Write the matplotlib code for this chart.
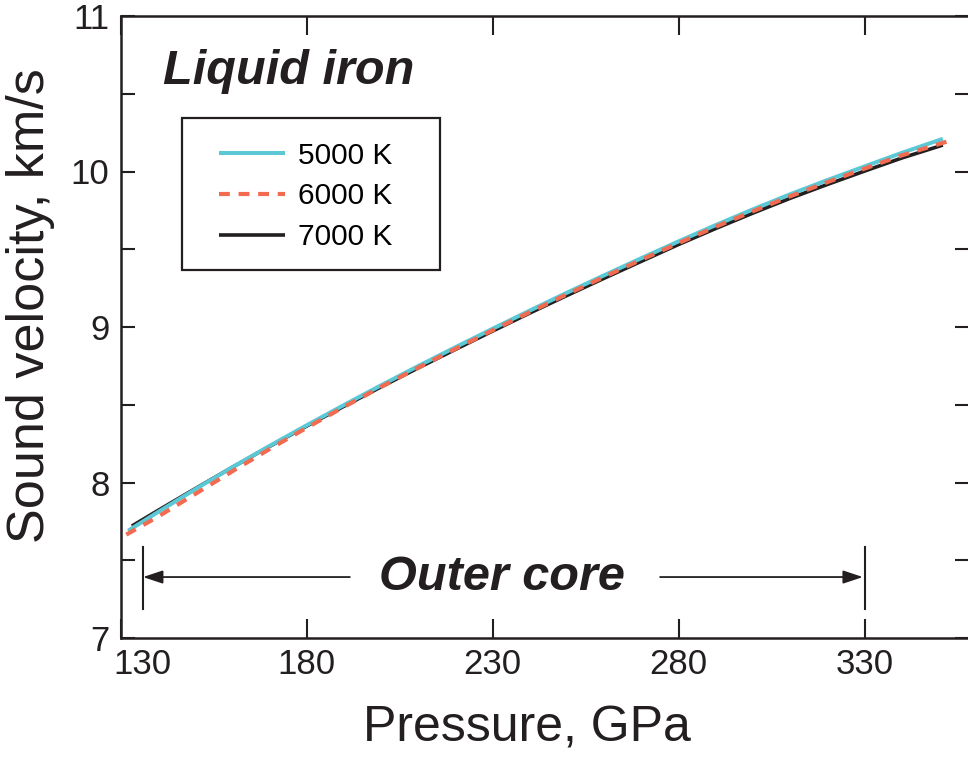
import matplotlib
matplotlib.use("Agg")
import matplotlib.pyplot as plt
import matplotlib.transforms as mtransforms
from matplotlib.patches import Rectangle

plt.rcParams['font.family'] = ['Liberation Sans', 'DejaVu Sans']

# Sound velocity of liquid iron along three isotherms (GPa, km/s)
pressure_5000 = [132, 140, 150, 160, 170, 180, 190, 200, 210, 220, 230, 240, 250, 260,
                 270, 280, 290, 300, 310, 320, 330, 340, 351]
velocity_5000 = [7.69, 7.81, 7.956, 8.098, 8.235, 8.368, 8.498, 8.625, 8.749, 8.870,
                 8.989, 9.106, 9.221, 9.333, 9.443, 9.551, 9.656, 9.757, 9.854, 9.945,
                 10.033, 10.12, 10.21]

pressure_6000 = [131.5, 140, 150, 160, 170, 180, 190, 200, 210, 220, 230, 240, 250, 260,
                 270, 280, 290, 300, 310, 320, 330, 340, 352.5]
velocity_6000 = [7.665, 7.78, 7.926, 8.072, 8.215, 8.352, 8.486, 8.615, 8.739, 8.860,
                 8.979, 9.096, 9.211, 9.323, 9.433, 9.540, 9.645, 9.745, 9.841, 9.932,
                 10.019, 10.104, 10.195]

pressure_7000 = [133, 140, 150, 160, 170, 180, 190, 200, 210, 220, 230, 240, 250, 260,
                 270, 280, 290, 300, 310, 320, 330, 340, 351]
velocity_7000 = [7.72, 7.82, 7.960, 8.098, 8.232, 8.363, 8.490, 8.615, 8.737, 8.856,
                 8.974, 9.090, 9.203, 9.314, 9.423, 9.531, 9.634, 9.733, 9.828, 9.917,
                 10.003, 10.087, 10.17]

series_labels = ['5000 K', '6000 K', '7000 K']
x_ticks = [130, 180, 230, 280, 330]
y_ticks = [7, 8, 9, 10, 11]

# Outer core pressure range (CMB to ICB)
outer_core = (136, 330)

W, H = 968, 759
fig = plt.figure(figsize=(W / 100, H / 100), dpi=100)
ax_left, ax_bottom = 120.7 / W, 1 - 638 / H
ax_top = 1 - 16 / H
ax = fig.add_axes([ax_left, ax_bottom, 1.0009 - ax_left, ax_top - ax_bottom])

ax.set_xlim(130, 358)
ax.set_ylim(7, 11)

black = '#231f20'
cyan = '#5bc8d5'
red = '#f26b50'

l7, = ax.plot(pressure_7000, velocity_7000, color=black, lw=2.6, solid_capstyle='butt', zorder=3)
l5, = ax.plot(pressure_5000, velocity_5000, color=cyan, lw=2.9, solid_capstyle='butt', zorder=4)
l6, = ax.plot(pressure_6000, velocity_6000, color=red, lw=3.0, linestyle=(0, (2.6, 2.1)), zorder=5)

# Axes styling
for s in ax.spines.values():
    s.set_linewidth(1.8)
    s.set_color(black)

ax.set_xticks(x_ticks)
ax.set_yticks(y_ticks)
ax.set_yticks([7.5, 8.5, 9.5, 10.5], minor=True)
ax.tick_params(axis='x', which='major', direction='in', length=14, width=1.5,
               top=True, labelsize=25, pad=7, colors=black)
ax.tick_params(axis='y', which='both', direction='in', length=10, width=1.5,
               right=True, labelsize=25, pad=8, colors=black)

# shift the first pressure label off the spine
lab0 = ax.get_xticklabels()[0]
lab0.set_transform(lab0.get_transform() +
                   mtransforms.ScaledTranslation(22 / 100, 0, fig.dpi_scale_trans))

ax.set_xlabel('Pressure, GPa', fontsize=36, color=black)
ax.set_ylabel('Sound velocity, km/s', fontsize=37.5, color=black)
ax.xaxis.set_label_coords(0.479, -0.108)
ax.yaxis.set_label_coords(-0.077, 0.535)

# Title inside the plot
ax.text(141.4, 10.64, 'Liquid iron', fontsize=35, fontweight='bold', fontstyle='italic',
        ha='left', va='center', color=black)

# Outer core range marker
y_arrow = 7.392
ax.plot([outer_core[0]] * 2, [7.187, 7.585], color=black, lw=1.5)
ax.plot([outer_core[1]] * 2, [7.187, 7.585], color=black, lw=1.5)
arrow_kw = dict(arrowstyle='-|>,head_length=1.2,head_width=0.4', color=black, lw=1.3,
                shrinkA=0, shrinkB=0)
ax.annotate('', xy=(outer_core[0], y_arrow), xytext=(191.6, y_arrow), arrowprops=arrow_kw)
ax.annotate('', xy=(outer_core[1] - 0.5, y_arrow), xytext=(275, y_arrow), arrowprops=arrow_kw)
ax.text(232.5, y_arrow, 'Outer core', fontsize=35, fontweight='bold', fontstyle='italic',
        ha='center', va='center', color=black)

# Legend with a square frame
ax_w = (1.0009 - ax_left) * W
ax_h = 622
bx0, by0 = (182 - 120.7) / ax_w, (638 - 270) / ax_h
bw, bh = 258 / ax_w, 152 / ax_h
ax.add_patch(Rectangle((bx0, by0), bw, bh, transform=ax.transAxes, fill=False,
                       edgecolor=black, lw=1.6, zorder=6))
ax.legend([l5, l6, l7], series_labels, loc='center',
          bbox_to_anchor=(bx0 + bw / 2 - 0.006, by0 + bh / 2 - 0.004),
          frameon=False, fontsize=21.5, handlelength=2.2, handletextpad=0.45,
          labelspacing=0.42, borderpad=0)

fig.savefig('out.png', dpi=100)
